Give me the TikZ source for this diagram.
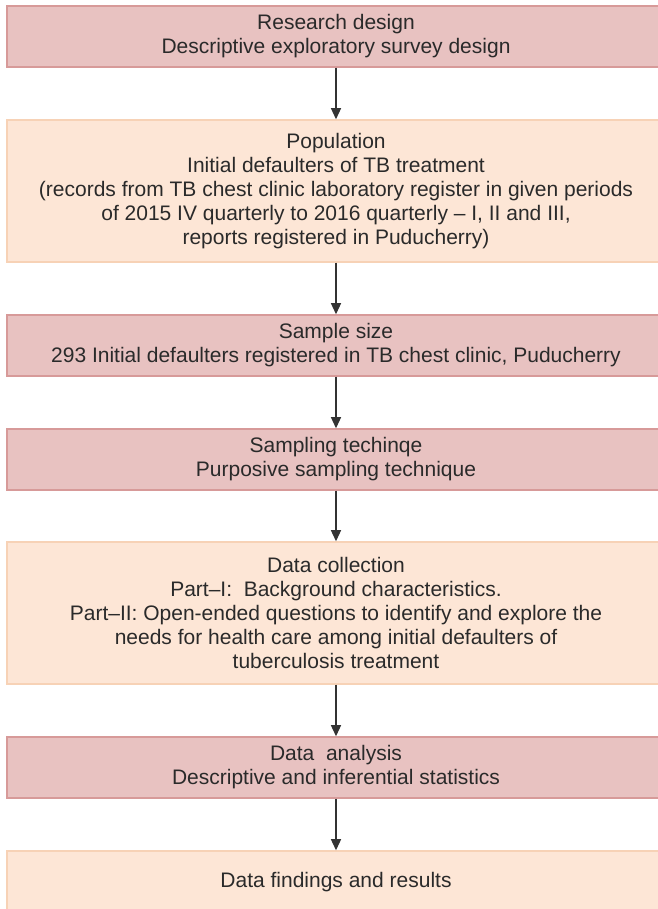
\documentclass[tikz,border=0pt]{standalone}
\usepackage{fontspec}
\setmainfont{Liberation Sans}
\usetikzlibrary{arrows.meta}
\definecolor{pinkfill}{HTML}{E8C2C1}
\definecolor{pinkline}{HTML}{D79A99}
\definecolor{peachfill}{HTML}{FDE6D6}
\definecolor{peachline}{HTML}{F7D2B6}
\definecolor{txt}{HTML}{2A2A2A}
\definecolor{arr}{HTML}{333333}
\begin{document}
\begin{tikzpicture}[x=1pt,y=1pt,
  box/.style={rectangle, line width=1.5pt, minimum width=658pt, inner sep=0pt,
    align=center, text=txt, font=\fontsize{21}{24}\selectfont},
  pinkbox/.style={box, fill=pinkfill, draw=pinkline},
  peachbox/.style={box, fill=peachfill, draw=peachline},
  flow/.style={draw=arr, line width=1.3pt, -{Triangle[length=11pt,width=10pt]}}]
\useasboundingbox (0,0) rectangle (657,909);
\node[pinkbox, minimum height=61pt] (b1) at (336,872.5)
  {Research design\\Descriptive exploratory survey design};
\node[peachbox, minimum height=142pt] (b2) at (336,718)
  {Population\\Initial defaulters of TB treatment\\(records from TB chest clinic laboratory register in given periods\\of 2015 IV quarterly to 2016 quarterly -- I, II and III,\\reports registered in Puducherry)};
\node[pinkbox, minimum height=61pt] (b3) at (336,563.5)
  {Sample size\\293 Initial defaulters registered in TB chest clinic, Puducherry};
\node[pinkbox, minimum height=61pt] (b4) at (336,449.5)
  {Sampling techinqe\\Purposive sampling technique};
\node[peachbox, minimum height=142pt] (b5) at (336,296)
  {Data collection\\Part--I:\ \ Background characteristics.\\Part--II: Open-ended questions to identify and explore the\\needs for health care among initial defaulters of\\tuberculosis treatment};
\node[pinkbox, minimum height=61pt] (b6) at (336,141.5)
  {Data\ \ analysis\\Descriptive and inferential statistics};
\node[peachbox, minimum height=62pt] (b7) at (336,27)
  {Data findings and results};
\draw[flow] (b1.south) -- (b2.north);
\draw[flow] (b2.south) -- (b3.north);
\draw[flow] (b3.south) -- (b4.north);
\draw[flow] (b4.south) -- (b5.north);
\draw[flow] (b5.south) -- (b6.north);
\draw[flow] (b6.south) -- (b7.north);
\end{tikzpicture}
\end{document}
